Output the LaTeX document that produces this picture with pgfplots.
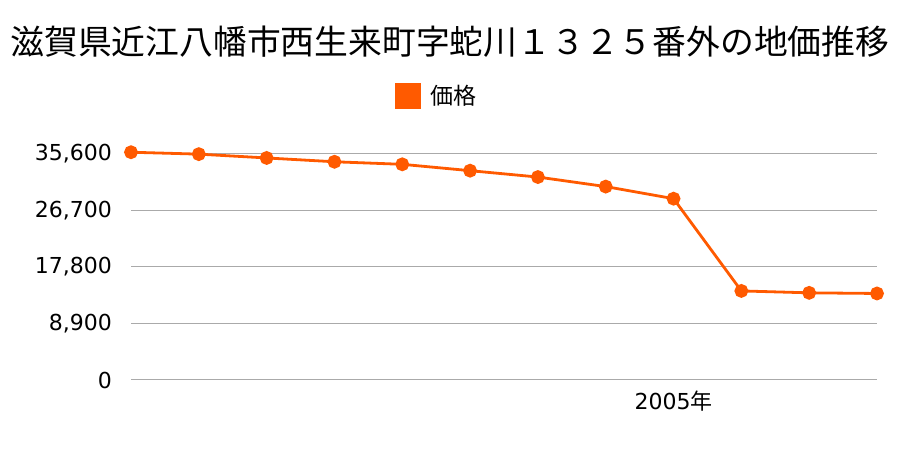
\documentclass[border=0pt]{standalone}
\usepackage{fontspec}
\setmainfont{DejaVu Sans}
\newfontfamily\cjk{Noto Sans CJK JP}
\usepackage{pgfplots}
\pgfplotsset{compat=1.18}
\definecolor{lineor}{HTML}{FF5A00}
\definecolor{gridgr}{HTML}{AAAAAA}
\begin{document}
\begin{tikzpicture}[x=1pt,y=1pt]
\path (0,0) rectangle (900,450);
\node[font=\cjk\fontsize{33.8}{38}\selectfont] at (450,408) {滋賀県近江八幡市西生来町字蛇川１３２５番外の地価推移};
\begin{axis}[
  at={(131pt,70pt)}, anchor=south west,
  scale only axis, width=746pt, height=226.5pt,
  xmin=1997, xmax=2008, ymin=0, ymax=35600,
  clip=false,
  axis line style={draw=none},
  ymajorgrids, grid style={gridgr, line width=1pt},
  ytick={0,8900,17800,26700,35600},
  scaled y ticks=false,
  xtick={2005}, xticklabels={2005{\cjk 年}},
  major tick length=0pt,
  yticklabel style={font=\fontsize{22}{24}\selectfont, inner sep=0pt, anchor=east, xshift=-19pt},
  xticklabel style={font=\fontsize{22}{24}\selectfont, inner sep=0pt, anchor=north, yshift=-11pt},
  /pgf/number format/assume math mode=true,
  /pgf/number format/1000 sep={,},
  legend style={at={(axis description cs:0.4085,1.254)}, anchor=center, draw=none, font=\cjk\fontsize{23}{25}\selectfont, legend cell align=left, inner sep=0pt, nodes={inner sep=0pt}},
  legend image code/.code={\fill[lineor] (0pt,-11.5pt) rectangle (23pt,11.5pt);},
]
\addplot[lineor, line width=2.8pt, mark=*, mark size=5.5pt, mark options={fill=lineor, draw=none}] coordinates {
(1997,35800) (1998,35500) (1999,34900) (2000,34300) (2001,33900) (2002,32900)
(2003,31900) (2004,30400) (2005,28500) (2006,14000) (2007,13700) (2008,13600)
};
\addlegendentry{\hspace{10pt}価格}
\end{axis}
\end{tikzpicture}
\end{document}
